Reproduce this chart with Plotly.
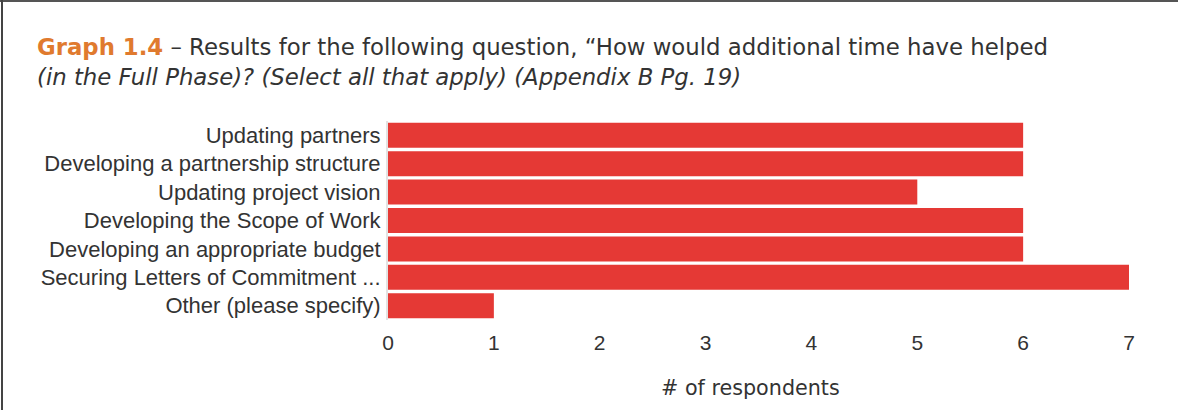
import plotly.graph_objects as go

categories = [
    "Updating partners",
    "Developing a partnership structure",
    "Updating project vision",
    "Developing the Scope of Work",
    "Developing an appropriate budget",
    "Securing Letters of Commitment ...",
    "Other (please specify)",
]
values = [6, 6, 5, 6, 6, 7, 1]
tick_vals = [0, 1, 2, 3, 4, 5, 6, 7]

W, H = 1178, 410
L, R, T, B = 388, 49, 121, 90
pw, ph = W - L - R, H - T - B

def px_x(p):
    return (p - L) / pw

def px_y(p):
    return (H - B - p) / ph

fig = go.Figure(go.Bar(
    x=values, y=categories, orientation="h",
    marker=dict(color="#e53935", line=dict(width=0)),
    hoverinfo="x+y",
))

title_font = "DejaVu Sans, sans-serif"

fig.update_layout(
    width=W, height=H,
    margin=dict(l=L, r=R, t=T, b=B, pad=0),
    paper_bgcolor="white", plot_bgcolor="white",
    bargap=0.12,
    showlegend=False,
    xaxis=dict(
        range=[0, 7], tickvals=tick_vals, showgrid=False, zeroline=False,
        showline=False, ticks="", ticklabelstandoff=8,
        tickfont=dict(family="Liberation Sans, Arial, sans-serif", size=21, color="#333333"),
        fixedrange=True,
    ),
    yaxis=dict(
        autorange="reversed", showgrid=False, zeroline=False,
        showline=True, linecolor="#e3e3e3", linewidth=2,
        ticks="", ticklabelstandoff=1,
        tickfont=dict(family="Liberation Sans, Arial, sans-serif", size=22, color="#333333"),
        fixedrange=True,
    ),
    annotations=[
        dict(text="<b><span style='color:#e07a2e'>Graph 1.4</span></b> – Results for the following question, “How would additional time have helped",
             xref="paper", yref="paper", x=px_x(35), y=px_y(47), xanchor="left", yanchor="middle",
             showarrow=False, font=dict(family=title_font, size=22.8, color="#333333")),
        dict(text="<i>(in the Full Phase)? (Select all that apply) (Appendix B Pg. 19)</i>",
             xref="paper", yref="paper", x=px_x(35), y=px_y(77), xanchor="left", yanchor="middle",
             showarrow=False, font=dict(family=title_font, size=22.8, color="#333333")),
        dict(text="# of respondents",
             xref="paper", yref="paper", x=px_x(750), y=px_y(388), xanchor="center", yanchor="middle",
             showarrow=False, font=dict(family=title_font, size=20.7, color="#333333")),
    ],
    shapes=[
        dict(type="line", xref="paper", yref="paper",
             x0=px_x(0), x1=px_x(W), y0=px_y(1), y1=px_y(1),
             line=dict(color="#555555", width=2)),
        dict(type="line", xref="paper", yref="paper",
             x0=px_x(2), x1=px_x(2), y0=px_y(0), y1=px_y(H),
             line=dict(color="#444444", width=2)),
    ],
)

fig.write_html("out.html", config={"displayModeBar": False},
               post_script="document.body.style.margin='0';")
